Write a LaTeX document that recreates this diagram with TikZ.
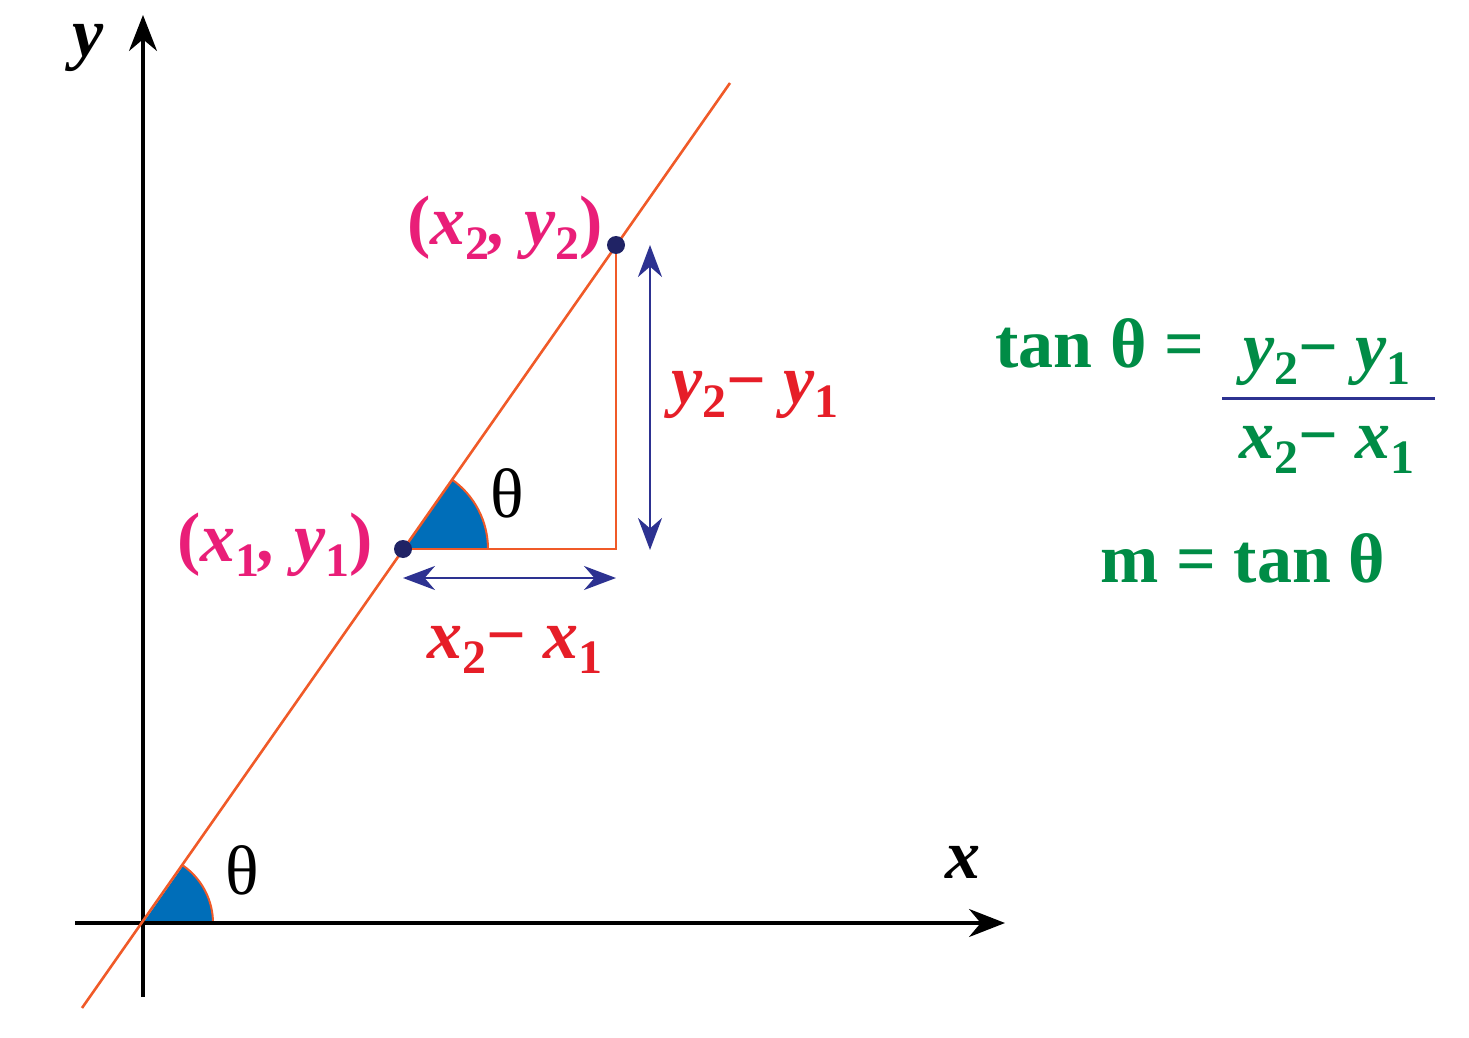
\documentclass[tikz,border=0pt]{standalone}
\usepackage{fontspec}
\setmainfont{Liberation Serif}
\usetikzlibrary{arrows.meta}
\definecolor{pinkc}{RGB}{233,30,120}
\definecolor{redc}{RGB}{230,30,40}
\definecolor{greenc}{RGB}{0,140,70}
\definecolor{bluec}{RGB}{45,50,145}
\definecolor{orangec}{RGB}{240,90,40}
\definecolor{fillc}{RGB}{0,110,185}
\newcommand{\subsc}[1]{\raisebox{-0.45ex}{\upshape\fontsize{24}{24}\selectfont #1}}
\newcommand{\up}[1]{\textup{#1}}
\tikzset{lbl/.style={font=\fontsize{35}{40}\selectfont\bfseries\itshape},
 big/.style={font=\fontsize{35}{40}\selectfont},
 axis/.style={line width=1.6pt,-{Stealth[length=18pt,width=14pt]}},
 dim/.style={bluec,line width=1.3pt,{Stealth[length=16pt,width=12pt]}-{Stealth[length=16pt,width=12pt]}},
 dotc/.style={circle,fill=bluec!70!black,inner sep=0pt,minimum size=9pt}}
\begin{document}
\begin{tikzpicture}[x=0.5pt,y=-0.5pt]
\useasboundingbox (0,0) rectangle (1469,1038);
\coordinate (O) at (143,923);
\coordinate (P1) at (403,549);
\coordinate (P2) at (616,245);
\coordinate (C) at (616,549);
\fill[fillc] (O) -- ++(0:70) arc[start angle=0,end angle=-55,radius=70] -- cycle;
\draw[orangec,line width=1pt] (O) ++(0:70) arc[start angle=0,end angle=-55,radius=70];
\fill[fillc] (P1) -- ++(0:85) arc[start angle=0,end angle=-55,radius=85] -- cycle;
\draw[orangec,line width=1pt] (P1) ++(0:85) arc[start angle=0,end angle=-55,radius=85];
\coordinate (xs) at (75,923); \coordinate (xe) at (1005,923);
\coordinate (ys) at (143,997); \coordinate (ye) at (143,15);
\draw[axis] (xs) -- (xe);
\draw[axis] (ys) -- (ye);
\coordinate (L1) at (82,1008); \coordinate (L2) at (730,83);
\draw[orangec,line width=1.3pt] (L1) -- (L2);
\draw[orangec,line width=1.3pt] (P1) -- (C) -- (P2);
\coordinate (ha) at (403,578); \coordinate (hb) at (616,578);
\coordinate (va) at (650,245); \coordinate (vb) at (650,550);
\draw[dim] (ha) -- (hb);
\draw[dim] (va) -- (vb);
\node[dotc] (d1) at (P1) {};
\node[dotc] (d2) at (P2) {};
\node[lbl] (ylab) at (88,48) {y};
\node[lbl] (xlab) at (963,862) {x};
\node[big] (t1) at (242,870) {θ};
\node[big] (t2) at (507,493) {θ};
\node[lbl,pinkc] (p2) at (505,228) {\up{(}x\subsc{2}, y\subsc{2}\up{)}};
\node[lbl,pinkc] (p1) at (275,545) {\up{(}x\subsc{1}, y\subsc{1}\up{)}};
\node[lbl,redc] (dy) at (755,395) {y\subsc{2}\up{−} y\subsc{1}};
\node[lbl,redc] (dx) at (515,650) {x\subsc{2}\up{−} x\subsc{1}};
\node[font=\fontsize{35}{40}\selectfont\bfseries,greenc] (tn) at (1100,343) {tan θ =};
\node[lbl,greenc] (num) at (1327,362) {y\subsc{2}\up{−} y\subsc{1}};
\coordinate (fa) at (1222,398); \coordinate (fb) at (1435,398);
\draw[bluec,line width=1.5pt] (fa) -- (fb);
\node[lbl,greenc] (den) at (1327,450) {x\subsc{2}\up{−} x\subsc{1}};
\node[font=\fontsize{35}{40}\selectfont\bfseries,greenc] (m) at (1243,558) {m = tan θ};
\end{tikzpicture}
\end{document}
